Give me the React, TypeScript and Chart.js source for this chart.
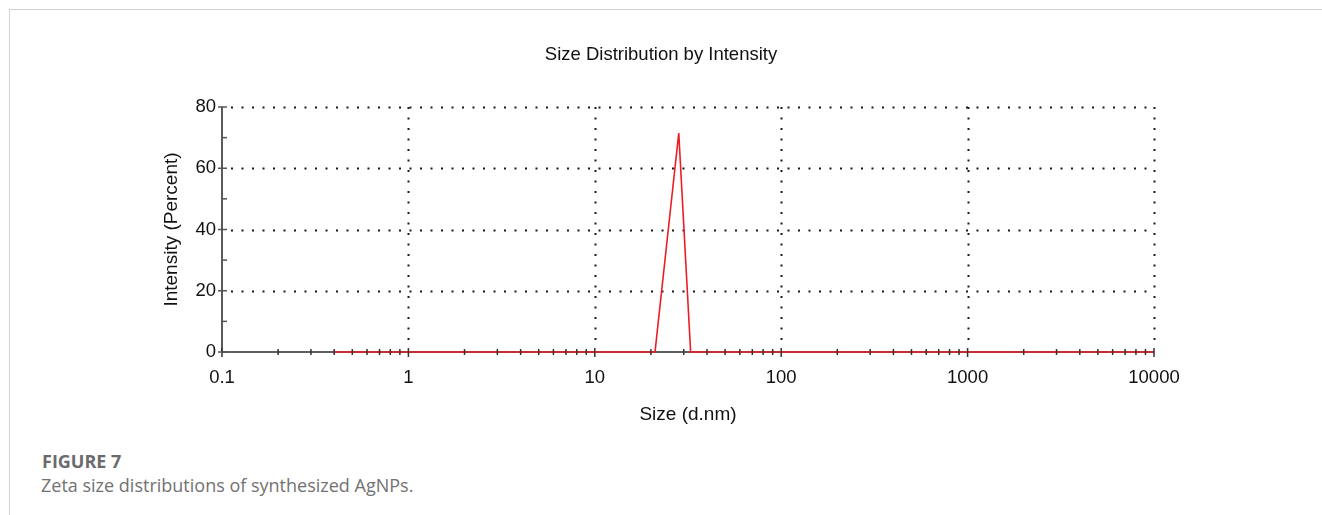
import React, { useEffect, useRef } from "react";
import { Chart, registerables } from "chart.js";

Chart.register(...registerables);

// ---- data ----
const sizesNm = [0.4, 21.04, 28.21, 32.67, 10000];
const intensityPct = [0, 0, 71.5, 0, 0];
const xDecadeTicks = [0.1, 1, 10, 100, 1000, 10000];
const xTickLabels = ["0.1", "1", "10", "100", "1000", "10000"];
const yMajorTicks = [0, 20, 40, 60, 80];
const yMinorTicks = [10, 30, 50, 70];
const xMinorMultipliers = [2, 3, 4, 5, 6, 7, 8, 9];

const chartTitle = "Size Distribution by Intensity";
const xTitle = "Size (d.nm)";
const yTitle = "Intensity (Percent)";
const figLabel = "FIGURE 7";
const figCaption = "Zeta size distributions of synthesized AgNPs.";

const FONT = "'Liberation Sans', Arial, sans-serif";
const W = 1322;
const H = 430;

const framePlugin = {
  id: "dlsFrame",
  beforeDatasetsDraw(chart: any) {
    const { ctx, chartArea: a, scales } = chart;
    const x = scales.x;
    const y = scales.y;
    const y0 = y.getPixelForValue(0);
    ctx.save();
    // dotted grid lines
    ctx.strokeStyle = "#1a1a1a";
    ctx.lineWidth = 2;
    ctx.setLineDash([2, 8.5]);
    for (const v of yMajorTicks) {
      if (v === 0) continue;
      const py = Math.round(y.getPixelForValue(v)) + 0.5;
      ctx.beginPath();
      ctx.moveTo(a.left + 9, py);
      ctx.lineTo(a.right, py);
      ctx.stroke();
    }
    for (const v of xDecadeTicks) {
      if (v === xDecadeTicks[0]) continue;
      const px = Math.round(x.getPixelForValue(v)) + 0.5;
      ctx.beginPath();
      ctx.moveTo(px, a.top);
      ctx.lineTo(px, y0 - 6);
      ctx.stroke();
    }
    ctx.setLineDash([]);
    // left axis
    ctx.strokeStyle = "#5a5a5a";
    ctx.lineWidth = 2;
    ctx.beginPath();
    ctx.moveTo(a.left, y.getPixelForValue(80));
    ctx.lineTo(a.left, y0);
    ctx.stroke();
    // bottom axis
    ctx.strokeStyle = "#2a2a2a";
    ctx.lineWidth = 1.5;
    ctx.beginPath();
    ctx.moveTo(a.left, y0);
    ctx.lineTo(a.right, y0);
    ctx.stroke();
    ctx.restore();
  },
  afterDatasetsDraw(chart: any) {
    const { ctx, chartArea: a, scales } = chart;
    const x = scales.x;
    const y = scales.y;
    const y0 = y.getPixelForValue(0);
    ctx.save();
    ctx.strokeStyle = "#333";
    ctx.lineWidth = 1.5;
    // x ticks
    for (let i = 0; i < xDecadeTicks.length; i++) {
      const d = xDecadeTicks[i];
      const px = x.getPixelForValue(d);
      ctx.beginPath();
      ctx.moveTo(px, y0 - 4);
      ctx.lineTo(px, y0 + 5);
      ctx.stroke();
      if (i === xDecadeTicks.length - 1) continue;
      for (const m of xMinorMultipliers) {
        const pm = x.getPixelForValue(d * m);
        ctx.beginPath();
        ctx.moveTo(pm, y0 - 3);
        ctx.lineTo(pm, y0 + 3);
        ctx.stroke();
      }
    }
    // y ticks
    ctx.strokeStyle = "#555";
    for (const v of yMajorTicks) {
      const py = y.getPixelForValue(v);
      ctx.beginPath();
      ctx.moveTo(a.left - 4, py);
      ctx.lineTo(a.left + 5, py);
      ctx.stroke();
    }
    for (const v of yMinorTicks) {
      const py = y.getPixelForValue(v);
      ctx.beginPath();
      ctx.moveTo(a.left, py);
      ctx.lineTo(a.left + 5, py);
      ctx.stroke();
    }
    ctx.restore();
  },
};

function DlsChart() {
  const ref = useRef<HTMLCanvasElement | null>(null);
  useEffect(() => {
    if (!ref.current) return;
    const chart = new Chart(ref.current, {
      type: "line",
      data: {
        datasets: [
          {
            data: sizesNm.map((s, i) => ({ x: s, y: intensityPct[i] })),
            borderColor: "#ee1c24",
            borderWidth: 1.6,
            pointRadius: 0,
            tension: 0,
            fill: false,
            clip: false,
          },
        ],
      },
      options: {
        responsive: false,
        animation: false,
        devicePixelRatio: 1,
        layout: { padding: { left: 0, right: 0, top: 0, bottom: 0 } },
        plugins: {
          legend: { display: false },
          tooltip: { enabled: false },
          title: {
            display: true,
            text: chartTitle,
            color: "#111",
            font: { family: FONT, size: 18.5, weight: "normal" },
            padding: { top: 43.5, bottom: 41.3 },
          },
        },
        scales: {
          x: {
            type: "logarithmic",
            min: 0.1,
            max: 10000,
            afterBuildTicks: (s: any) => {
              s.ticks = xDecadeTicks.map((v) => ({ value: v, major: true }));
            },
            afterFit: (s: any) => {
              s.height = H - 352;
            },
            ticks: {
              autoSkip: false,
              maxRotation: 0,
              padding: 15.3,
              color: "#111",
              font: { family: FONT, size: 18.5 },
              callback: (v: any) => {
                const i = xDecadeTicks.indexOf(Number(v));
                return i >= 0 ? xTickLabels[i] : "";
              },
            },
            grid: { display: false, drawTicks: false },
            border: { display: false },
            title: {
              display: true,
              text: xTitle,
              color: "#111",
              font: { family: FONT, size: 19 },
              padding: { top: 0, bottom: 4.2 },
            },
          },
          y: {
            type: "linear",
            position: "left",
            min: 0,
            max: 80,
            afterBuildTicks: (s: any) => {
              s.ticks = yMajorTicks.map((v) => ({ value: v }));
            },
            afterFit: (s: any) => {
              s.width = 222;
            },
            ticks: {
              padding: 6,
              color: "#111",
              font: { family: FONT, size: 18.5 },
            },
            grid: { display: false, drawTicks: false },
            border: { display: false },
            title: {
              display: true,
              text: yTitle,
              color: "#111",
              font: { family: FONT, size: 19 },
              padding: { top: 160.6, bottom: 0 },
            },
          },
          yRight: {
            type: "linear",
            position: "right",
            min: 0,
            max: 80,
            afterFit: (s: any) => {
              s.width = W - 1154;
            },
            ticks: { display: false },
            grid: { display: false, drawTicks: false },
            border: { display: false },
          },
        },
      },
      plugins: [framePlugin],
    } as any);
    return () => chart.destroy();
  }, []);
  return (
    <canvas
      ref={ref}
      width={W}
      height={H}
      style={{ position: "absolute", left: 0, top: 0, width: W, height: H }}
    />
  );
}

export default function App() {
  return (
    <div
      style={{
        position: "absolute",
        left: 0,
        top: 0,
        width: W,
        height: 515,
        overflow: "hidden",
        background: "#fff",
      }}
    >
      <div
        style={{
          position: "absolute",
          left: 9,
          top: 9,
          width: 1400,
          height: 600,
          borderTop: "1px solid #d2d2d2",
          borderLeft: "1px solid #d2d2d2",
        }}
      />
      <DlsChart />
      <div
        style={{
          position: "absolute",
          left: 42,
          top: 449,
          fontFamily: "'Open Sans', sans-serif",
          fontWeight: 700,
          fontSize: 18,
          lineHeight: "24px",
          color: "#6b6b6b",
          whiteSpace: "nowrap",
        }}
      >
        {figLabel}
      </div>
      <div
        style={{
          position: "absolute",
          left: 41,
          top: 473,
          fontFamily: "'Open Sans', sans-serif",
          fontWeight: 400,
          fontSize: 18,
          lineHeight: "24px",
          color: "#727272",
          whiteSpace: "nowrap",
        }}
      >
        {figCaption}
      </div>
    </div>
  );
}
